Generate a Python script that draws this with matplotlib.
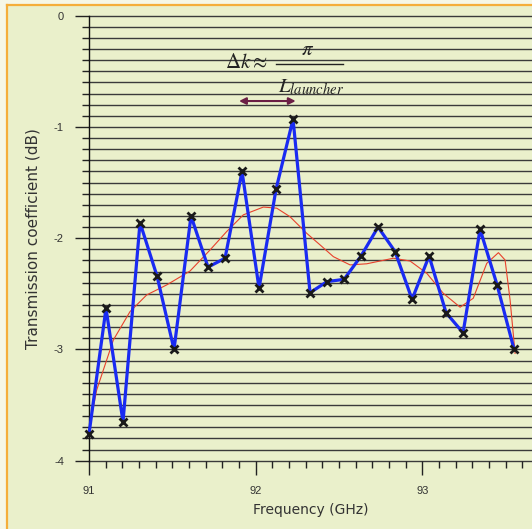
import matplotlib
matplotlib.use("Agg")
import matplotlib.pyplot as plt
from matplotlib.lines import Line2D
from matplotlib.patches import Rectangle
import numpy as np

plt.rcParams['mathtext.fontset'] = 'stix'
plt.rcParams['font.family'] = ['Liberation Sans', 'DejaVu Sans']

# Measured transmission (blue line with x markers)
freq = [91.0, 91.102, 91.204, 91.306, 91.408, 91.51, 91.612, 91.714, 91.816, 91.918,
        92.02, 92.122, 92.224, 92.326, 92.428, 92.53, 92.632, 92.734, 92.836, 92.938,
        93.04, 93.142, 93.244, 93.346, 93.448, 93.55]
trans = [-3.76, -2.63, -3.65, -1.86, -2.34, -3.00, -1.80, -2.26, -2.18, -1.40,
         -2.45, -1.56, -0.93, -2.49, -2.39, -2.37, -2.16, -1.90, -2.12, -2.55,
         -2.16, -2.67, -2.85, -1.92, -2.42, -3.00]

# Smoothed fit (red curve)
fit_f = [91.0, 91.008, 91.046, 91.146, 91.246, 91.346, 91.466, 91.606, 91.726, 91.826,
         91.926, 92.046, 92.126, 92.206, 92.306, 92.386, 92.466, 92.566, 92.666, 92.826,
         92.926, 93.026, 93.125, 93.226, 93.305, 93.386, 93.456, 93.496, 93.526, 93.556]
fit_t = [-3.72, -3.66, -3.365, -2.915, -2.66, -2.51, -2.42, -2.295, -2.106, -1.94,
         -1.79, -1.72, -1.73, -1.807, -1.956, -2.06, -2.166, -2.24, -2.23, -2.18,
         -2.205, -2.315, -2.495, -2.62, -2.54, -2.226, -2.13, -2.196, -2.555, -3.035]

x_major = [91, 92, 93]
y_major = [0, -1, -2, -3, -4]

W, H = 532, 529
fig = plt.figure(figsize=(W / 100, H / 100), dpi=100)
fig.patch.set_facecolor('#F6F7E6')
bg = '#EAF0CB'
fig.patches.append(Rectangle((7 / W, 0), 1 - 7 / W, 1 - 5 / H, transform=fig.transFigure,
                             facecolor=bg, edgecolor='none', zorder=-10))
fig.lines.append(Line2D([7 / W, 7 / W], [0, 1 - 5 / H], transform=fig.transFigure,
                        color='#F5AE3A', lw=1.6))
fig.lines.append(Line2D([7 / W, 1], [1 - 5 / H, 1 - 5 / H], transform=fig.transFigure,
                        color='#F5AE3A', lw=1.6))

left = 89 / W
top = 1 - 15.7 / H
bottom = 1 - 460.7 / H
ax = fig.add_axes([left, bottom, 1 - left, top - bottom])
ax.set_facecolor('none')

# horizontal grid every 0.1 dB
for k in range(41):
    ax.axhline(-k / 10, color='#3A3A3A', lw=1.0, zorder=1, clip_on=False)

for s in ['top', 'right', 'bottom']:
    ax.spines[s].set_visible(False)
ax.spines['left'].set_color('#111111')
ax.spines['left'].set_linewidth(1.0)
ax.spines['left'].set_zorder(2)

ax.set_xticks(x_major)
ax.set_xticklabels([str(v) for v in x_major])
ax.set_xticks([91 + i / 10 for i in range(27)], minor=True)
ax.set_yticks(y_major)
ax.set_yticklabels(['0', '-1', '-2', '-3', '-4'])
ax.set_yticks([-i / 10 for i in range(41)], minor=True)
ax.tick_params(axis='both', which='major', length=10, width=1.0, color='#222222',
               labelsize=8, labelcolor='#333333', pad=8)
ax.tick_params(axis='both', which='minor', length=5, width=1.0, color='#222222')

ax.plot(fit_f, fit_t, color='#E8412C', lw=0.8, zorder=3)
ax.plot(freq, trans, color='#1A2BF2', lw=2.3, zorder=4, marker='x', markersize=6,
        markeredgewidth=2.0, markeredgecolor='#1A1A1A', clip_on=False)

ax.set_xlim(91, 91 + (W - 89) / 166.7)
ax.set_ylim(-4, 0)

ax.set_xlabel('Frequency (GHz)', fontsize=10, color='#333333', labelpad=5,
              family=['DejaVu Sans'])
ax.set_ylabel('Transmission coefficient (dB)', fontsize=11, color='#333333', labelpad=10,
              family=['DejaVu Sans'])

# annotation
ax.text(91.816, -0.425, r'$\Delta k \approx$', fontsize=15, ha='left', va='center',
        color='#222222', zorder=5)
ax.text(92.31, -0.30, r'$\pi$', fontsize=15, ha='center', va='center', color='#222222', zorder=5)
ax.plot([92.122, 92.524], [-0.434, -0.434], color='#222222', lw=1.0, zorder=5)
ax.text(92.33, -0.64, r'$L_{launcher}$', fontsize=15, ha='center', va='center',
        color='#222222', zorder=5)
ax.annotate('', xy=(91.90, -0.767), xytext=(92.24, -0.767),
            arrowprops=dict(arrowstyle='<|-|>', color='#6B1F45', lw=1.5,
                            mutation_scale=10, shrinkA=0, shrinkB=0), zorder=5)

fig.savefig('out.png', dpi=100, facecolor=fig.get_facecolor())
